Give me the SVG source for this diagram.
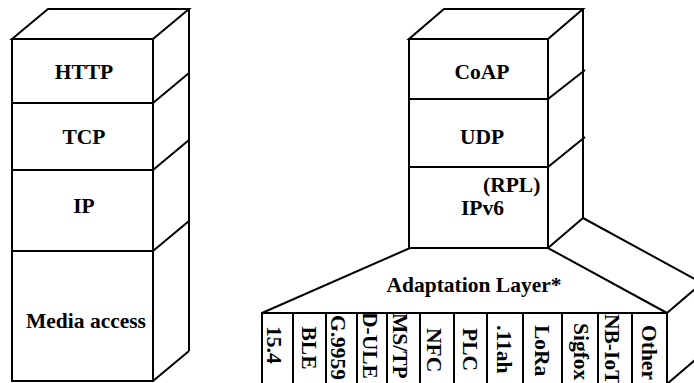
<svg xmlns="http://www.w3.org/2000/svg" width="694" height="383" viewBox="0 0 694 383">
<style>
.ln{fill:none;stroke:#000;stroke-width:2;stroke-linejoin:miter}
.bx{fill:#fff;stroke:#000;stroke-width:2}
.t{font-family:"Liberation Serif","Times New Roman",serif;font-weight:bold;font-size:21.5px;fill:#000}
.m{text-anchor:middle}
</style>
<defs>
<clipPath id="cells"><rect x="262" y="313" width="405" height="80"/></clipPath>
</defs>
<rect width="694" height="383" fill="#fff"/>

<!-- Left stack -->
<g id="left-stack">
  <g id="l-top"><polygon class="ln" points="12,39 48,9 189,9 153,39"/></g>
  <g id="http"><rect class="bx" x="12" y="39" width="141" height="64"/><text class="t m" x="84" y="79">HTTP</text></g>
  <g id="tcp"><rect class="bx" x="12" y="103" width="141" height="67"/><text class="t m" x="84" y="144">TCP</text></g>
  <g id="ip"><rect class="bx" x="12" y="170" width="141" height="81"/><text class="t m" x="84" y="213">IP</text></g>
  <g id="media"><rect class="bx" x="12" y="251" width="141" height="130"/><text class="t m" x="86" y="328">Media access</text></g>
</g>

<!-- Right stack -->
<g id="right-stack">
  <g id="r-top"><polygon class="ln" points="409,39 444,9 583,9 548,39"/></g>
  <g id="coap"><rect class="bx" x="409" y="39" width="139" height="60"/><text class="t m" x="482" y="79">CoAP</text></g>
  <g id="udp"><rect class="bx" x="409" y="99" width="139" height="68"/><text class="t m" x="482" y="144">UDP</text></g>
  <g id="ipv6"><rect class="bx" x="409" y="167" width="139" height="81"/><text class="t" x="483" y="192">(RPL)</text><text class="t" x="461" y="215">IPv6</text></g>
  <g id="adaptation">
    <polygon class="ln" points="410,248 548,248 667,313 262,313"/>
    <text class="t m" x="474" y="292">Adaptation Layer*</text>
  </g>
  <g id="cells-group">
    <rect class="ln" x="262" y="313" width="405" height="75"/>
    <path class="ln" d="M293,313V390M326,313V390M357,313V390M387,313V390M420,313V390M454,313V390M487,313V390M523,313V390M562,313V390M598,313V390M632,313V390"/>
    <g clip-path="url(#cells)">
      <g id="c-154"><text class="t" font-size="27" transform="translate(266.5,326) rotate(90)">15.4</text></g>
      <g id="c-ble"><text class="t" transform="translate(301.5,326.5) rotate(90)">BLE</text></g>
      <g id="c-g9959"><text class="t" transform="translate(331,315) rotate(90)">G.9959</text></g>
      <g id="c-dule"><text class="t" transform="translate(363,312) rotate(90)">D-ULE</text></g>
      <g id="c-mstp"><text class="t" transform="translate(393,313) rotate(90)">MS/TP</text></g>
      <g id="c-nfc"><text class="t" transform="translate(426.5,328) rotate(90)">NFC</text></g>
      <g id="c-plc"><text class="t" transform="translate(463,328) rotate(90)">PLC</text></g>
      <g id="c-11ah"><text class="t" transform="translate(497,325) rotate(90)">.11ah</text></g>
      <g id="c-lora"><text class="t" transform="translate(535,325) rotate(90)">LoRa</text></g>
      <g id="c-sigfox"><text class="t" transform="translate(574,323) rotate(90)">Sigfox</text></g>
      <g id="c-nbiot"><text class="t" transform="translate(605,314) rotate(90)">NB-IoT</text></g>
      <g id="c-other"><text class="t" transform="translate(641.5,325) rotate(90)">Other</text></g>
    </g>
  </g>
</g>

<!-- Depth edges -->
<g id="connectors" class="ln">
  <path d="M189,9V351M153,381L189,351M153,103L189,73M153,170L189,140M153,251L189,221"/>
  <path d="M583,9V218M548,99L585,70M548,167L585,137M548,248L583,218M583,218L702,283M667,313L702,283M667,384L702,354"/>
</g>
</svg>
